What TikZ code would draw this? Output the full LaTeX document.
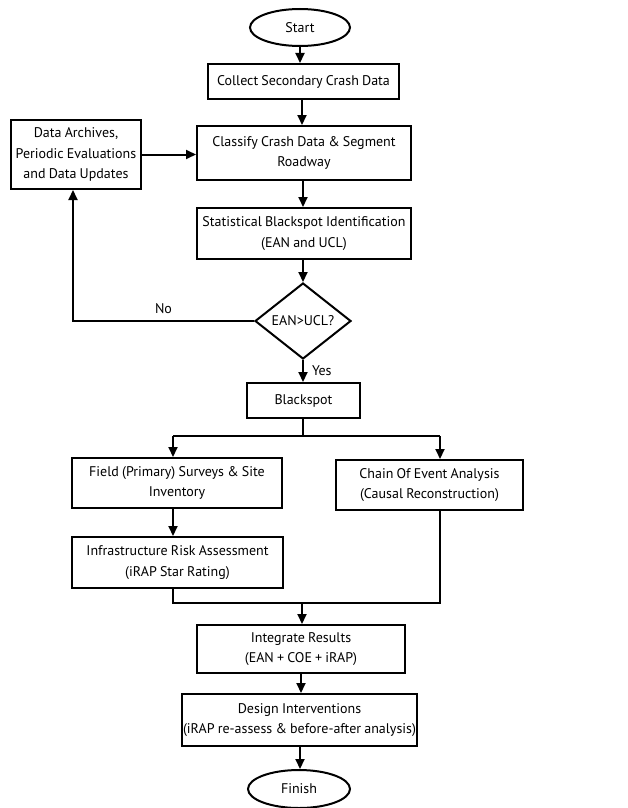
\documentclass[tikz,border=0pt]{standalone}
\usepackage{fontspec}
\setmainfont{PT Sans}[WordSpace=0.85]
\usetikzlibrary{shapes.geometric,arrows.meta}
\begin{document}
\begin{tikzpicture}[x=1pt,y=-1pt,
		every node/.style={font=\fontsize{14}{20.5}\selectfont, align=center, inner sep=0pt},
		box/.style={rectangle, draw, line width=2pt, minimum width=#1},
		term/.style={ellipse, draw, line width=2pt, minimum width=100, minimum height=37},
		ask/.style={diamond, draw, line width=2pt, minimum width=96, minimum height=76},
		flow/.style={line width=2pt, -{Triangle[length=10pt,width=9pt]}},
		line/.style={line width=2pt}]
		\useasboundingbox (0,0) rectangle (628,808);
		% main column
		\node[term] (start) at (300,27.5) {Start};
		\node[box=191, minimum height=35] (collect) at (303.5,81.5) {Collect Secondary Crash Data};
		\node[box=214, minimum height=54] (classify) at (304,153) {Classify Crash Data \& Segment\\Roadway};
		\node[box=130, minimum height=69] (archive) at (76,154.5) {Data Archives,\\Periodic Evaluations\\and Data Updates};
		\node[box=214, minimum height=51] (stat) at (304,233.5) {Statistical Blackspot Identification\\(EAN and UCL)};
		\node[ask] (check) at (303,321) {EAN>UCL?};
		\node[box=113, minimum height=35] (black) at (303.5,400.5) {Blackspot};
		% two branches
		\node[box=210, minimum height=50] (field) at (177,483) {Field (Primary) Surveys \& Site\\Inventory};
		\node[box=187, minimum height=50] (chain) at (429.5,485) {Chain Of Event Analysis\\(Causal Reconstruction)};
		\node[box=211, minimum height=51] (infra) at (177.5,562.5) {Infrastructure Risk Assessment\\(iRAP Star Rating)};
		\node[box=208, minimum height=48] (integ) at (301,649) {Integrate Results\\(EAN + COE + iRAP)};
		\node[box=235, minimum height=52] (design) at (299.5,720) {Design Interventions\\(iRAP re-assess \& before-after analysis)};
		\node[term, minimum width=102, minimum height=38] (finish) at (299,789) {Finish};
		% junctions
		\coordinate (split) at (303,436);
		\coordinate (splitL) at (173,436);
		\coordinate (splitR) at (440,436);
		\coordinate (joinL) at (173,603);
		\coordinate (joinR) at (440,603);
		\coordinate (join) at (302,603);
		% arrows
		\draw[flow] (start.south) -- (start.south |- collect.north);
		\draw[flow] (collect.south -| 302,0) -- (302,0 |- classify.north);
		\draw[flow] (classify.south -| 303,0) -- (303,0 |- stat.north);
		\draw[flow] (stat.south -| 303,0) -- (check.north);
		\draw[flow] (archive.east) -- (archive.east -| classify.west);
		\draw[flow] (check.west) -| (73,0 |- archive.south) node[pos=0.25, above=6pt] {No};
		\draw[flow] (check.south) -- (check.south |- black.north) node[midway, right=8pt] {Yes};
		\draw[line] (black.south -| split) -- (split);
		\draw[line] (splitL) -- (splitR);
		\draw[flow] (splitL) -- (splitL |- field.north);
		\draw[flow] (splitR) -- (splitR |- chain.north);
		\draw[flow] (splitL |- field.south) -- (splitL |- infra.north);
		\draw[line] (splitL |- infra.south) -- (joinL) -- (joinR) -- (splitR |- chain.south);
		\draw[flow] (join) -- (join |- integ.north);
		\draw[flow] (integ.south -| 301,0) -- (301,0 |- design.north);
		\draw[flow] (design.south -| 300,0) -- (300,0 |- finish.north);
\end{tikzpicture}
\end{document}
